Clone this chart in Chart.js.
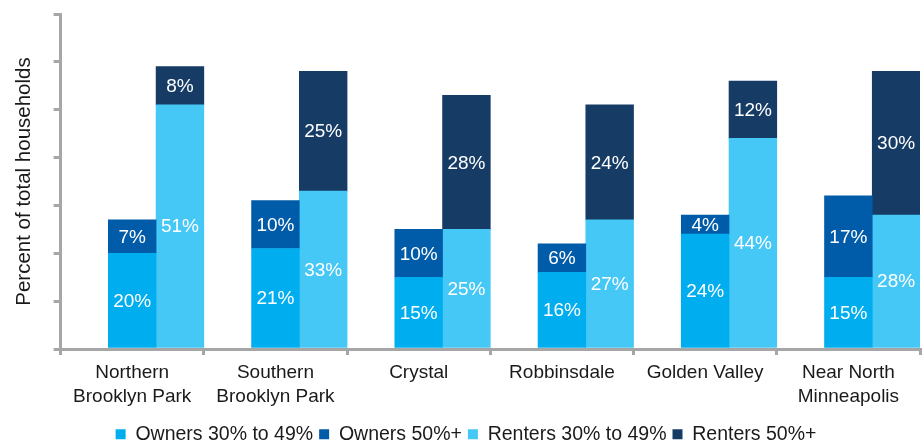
<!DOCTYPE html>
<html>
<head>
<meta charset="utf-8">
<script src="https://cdn.jsdelivr.net/npm/chart.js@4"></script>
<style>
  html, body { margin: 0; padding: 0; background: #fff; }
  #wrap { width: 924px; height: 443px; }
</style>
</head>
<body>
<div id="wrap"><canvas id="chart" width="924" height="443"></canvas></div>
<script>
// Chart data
const areas = [
  ["Northern", "Brooklyn Park"], ["Southern", "Brooklyn Park"], "Crystal",
  "Robbinsdale", "Golden Valley", ["Near North", "Minneapolis"]
];
const owners30to49 = [20, 21, 15, 16, 24, 15];
const owners50plus = [7, 10, 10, 6, 4, 17];
const renters30to49 = [51, 33, 25, 27, 44, 28];
const renters50plus = [8, 25, 28, 24, 12, 30];
const yTicks = [0, 10, 20, 30, 40, 50, 60, 70];

const axisGray = '#a6a6a6';
const textColor = '#1a1a1a';
const fontFamily = '"Liberation Sans", Arial, sans-serif';

// draws the white percent label in the middle of every segment
const segmentLabels = {
  id: 'segmentLabels',
  afterDatasetsDraw(chart) {
    const ctx = chart.ctx;
    ctx.save();
    ctx.fillStyle = '#ffffff';
    ctx.font = '19px ' + fontFamily;
    ctx.textAlign = 'center';
    ctx.textBaseline = 'middle';
    chart.data.datasets.forEach((ds, i) => {
      if (ds.isSpacer) return;
      chart.getDatasetMeta(i).data.forEach((bar, j) => {
        const v = ds.data[j];
        if (v == null) return;
        ctx.fillText(v + '%', bar.x, (bar.y + bar.base) / 2 + 1);
      });
    });
    ctx.restore();
  }
};

new Chart(document.getElementById('chart'), {
  type: 'bar',
  data: {
    labels: areas,
    datasets: [
      // empty stack that keeps the left third of every category free
      { label: '', data: areas.map(() => null), stack: 'spacer', isSpacer: true },
      { label: 'Owners 30% to 49%', data: owners30to49, stack: 'owners', backgroundColor: '#00aeef' },
      { label: 'Owners 50%+', data: owners50plus, stack: 'owners', backgroundColor: '#005ba8' },
      { label: 'Renters 30% to 49%', data: renters30to49, stack: 'renters', backgroundColor: '#45c8f6' },
      { label: 'Renters 50%+', data: renters50plus, stack: 'renters', backgroundColor: '#163c66' }
    ]
  },
  options: {
    responsive: false,
    animation: false,
    barPercentage: 1,
    categoryPercentage: 1,
    borderWidth: 0,
    layout: { padding: { left: 12, right: 4, top: 14, bottom: -11 } },
    plugins: {
      legend: {
        position: 'bottom',
        labels: {
          filter: item => item.text !== '',
          boxWidth: 10,
          boxHeight: 10,
          padding: 6,
          color: textColor,
          font: { family: fontFamily, size: 19.5 }
        }
      },
      tooltip: { enabled: false }
    },
    scales: {
      x: {
        stacked: true,
        afterFit: scale => { scale.height += 4; },
        grid: {
          drawOnChartArea: false,
          drawTicks: true,
          tickLength: 6,
          color: axisGray,
          lineWidth: 3
        },
        border: { color: axisGray, width: 3 },
        ticks: {
          color: textColor,
          maxRotation: 0,
          autoSkip: false,
          padding: 6,
          font: { family: fontFamily, size: 19, lineHeight: 1.25 }
        }
      },
      y: {
        stacked: true,
        min: yTicks[0],
        max: yTicks[yTicks.length - 1],
        afterBuildTicks: axis => { axis.ticks = yTicks.map(v => ({ value: v })); },
        grid: {
          drawOnChartArea: false,
          drawTicks: true,
          tickLength: 7,
          color: axisGray,
          lineWidth: 3
        },
        border: { color: axisGray, width: 3 },
        ticks: { display: false },
        title: {
          display: true,
          text: 'Percent of total households',
          color: textColor,
          padding: { top: 0, bottom: 17 },
          font: { family: fontFamily, size: 20.5 }
        }
      }
    }
  },
  plugins: [segmentLabels]
});
</script>
</body>
</html>
